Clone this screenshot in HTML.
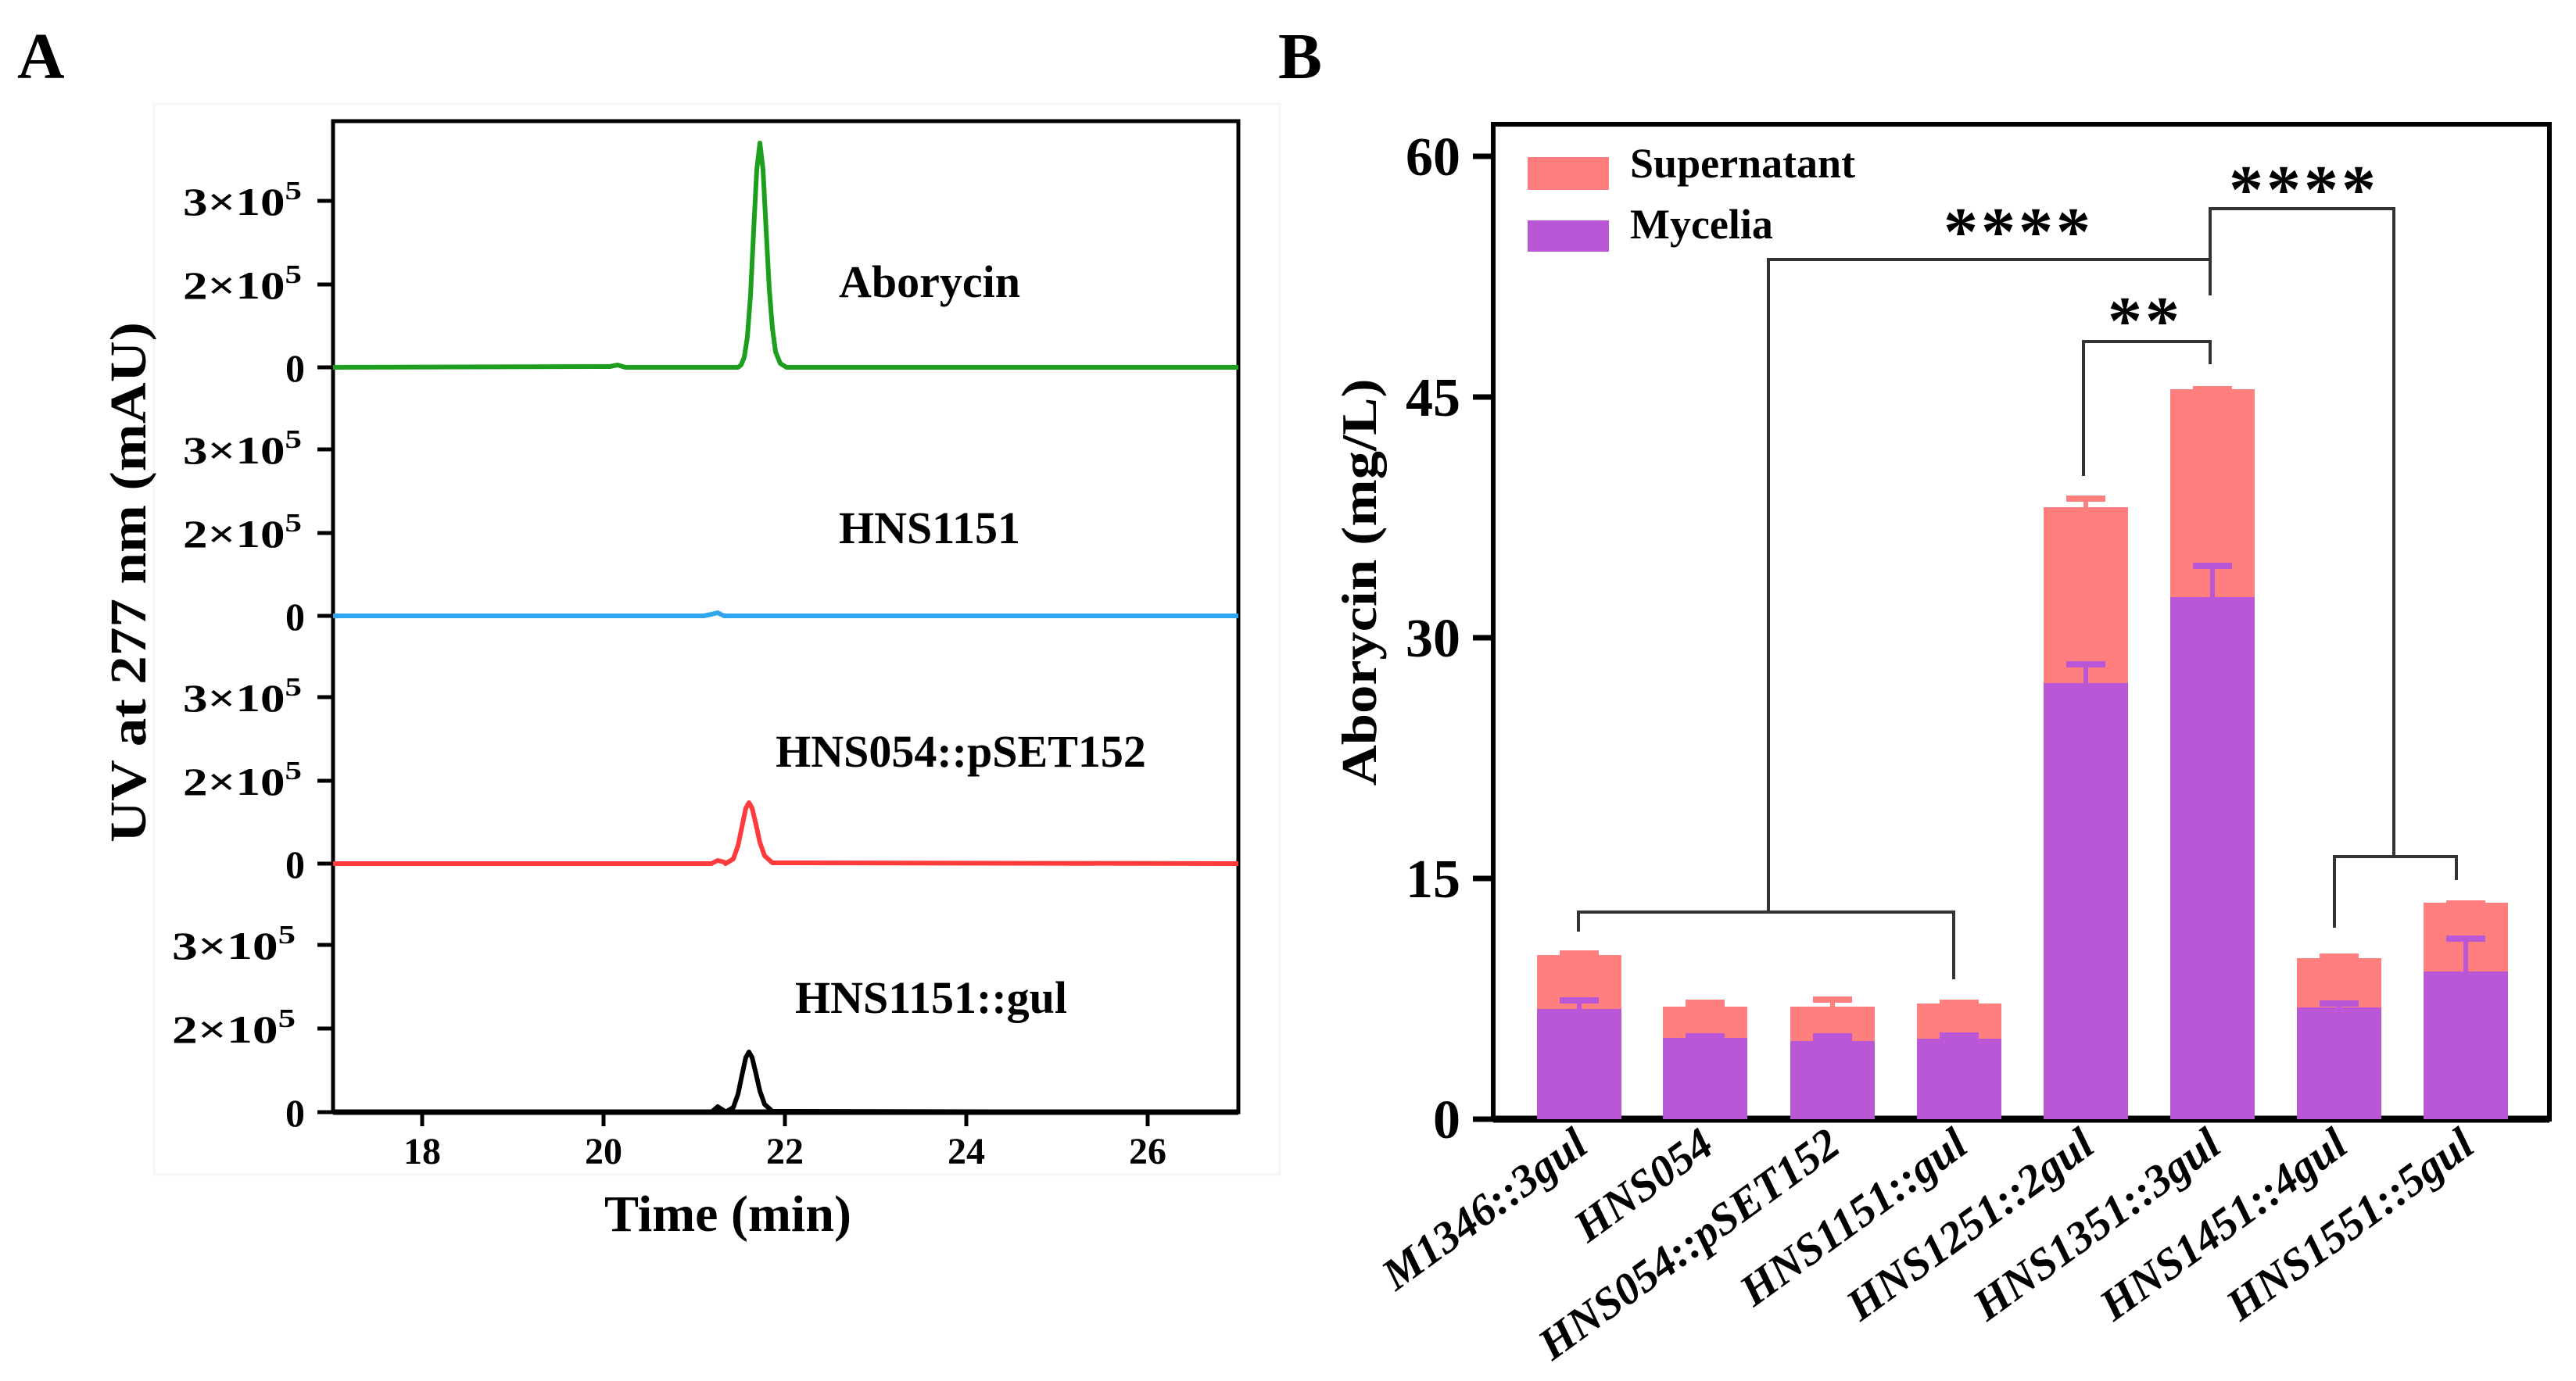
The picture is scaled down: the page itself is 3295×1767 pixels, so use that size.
<!DOCTYPE html>
<html><head><meta charset="utf-8"><style>
html,body{margin:0;padding:0;background:#fff}
svg{display:block}
text{font-family:"Liberation Serif",serif;font-weight:bold;fill:#000}
</style></head><body>
<svg width="3295" height="1767" viewBox="0 0 3295 1767" xmlns="http://www.w3.org/2000/svg">
<rect width="3295" height="1767" fill="#fff"/>
<!-- Panel A -->
<text x="22" y="100" font-size="84">A</text>
<rect x="197" y="133" width="1440" height="1370" fill="none" stroke="#f6f6f6" stroke-width="3"/>
<g stroke="#000" stroke-width="5" fill="none">
<rect x="426" y="155" width="1158" height="1268"/>
<line x1="426" y1="1423" x2="1584" y2="1423" stroke-width="7"/>
</g>
<g stroke="#000" stroke-width="5">
<line x1="406" y1="257" x2="426" y2="257"/><line x1="406" y1="364" x2="426" y2="364"/><line x1="406" y1="470" x2="426" y2="470"/>
<line x1="406" y1="575" x2="426" y2="575"/><line x1="406" y1="682" x2="426" y2="682"/><line x1="406" y1="788" x2="426" y2="788"/>
<line x1="406" y1="892" x2="426" y2="892"/><line x1="406" y1="999" x2="426" y2="999"/><line x1="406" y1="1105" x2="426" y2="1105"/>
<line x1="406" y1="1209" x2="426" y2="1209"/><line x1="406" y1="1316" x2="426" y2="1316"/><line x1="406" y1="1423" x2="426" y2="1423"/>
<line x1="540" y1="1423" x2="540" y2="1441"/><line x1="772" y1="1423" x2="772" y2="1441"/><line x1="1004" y1="1423" x2="1004" y2="1441"/><line x1="1236" y1="1423" x2="1236" y2="1441"/><line x1="1468" y1="1423" x2="1468" y2="1441"/>
</g>
<g font-size="50">
<text x="234" y="275" textLength="152" lengthAdjust="spacingAndGlyphs">3×10<tspan font-size="34" dy="-20">5</tspan></text>
<text x="234" y="382" textLength="152" lengthAdjust="spacingAndGlyphs">2×10<tspan font-size="34" dy="-20">5</tspan></text>
<text x="234" y="593" textLength="152" lengthAdjust="spacingAndGlyphs">3×10<tspan font-size="34" dy="-20">5</tspan></text>
<text x="234" y="700" textLength="152" lengthAdjust="spacingAndGlyphs">2×10<tspan font-size="34" dy="-20">5</tspan></text>
<text x="234" y="910" textLength="152" lengthAdjust="spacingAndGlyphs">3×10<tspan font-size="34" dy="-20">5</tspan></text>
<text x="234" y="1017" textLength="152" lengthAdjust="spacingAndGlyphs">2×10<tspan font-size="34" dy="-20">5</tspan></text>
<text x="220" y="1227" textLength="158" lengthAdjust="spacingAndGlyphs">3×10<tspan font-size="34" dy="-20">5</tspan></text>
<text x="220" y="1334" textLength="158" lengthAdjust="spacingAndGlyphs">2×10<tspan font-size="34" dy="-20">5</tspan></text>
</g>
<g font-size="50" text-anchor="end">
<text x="390" y="488">0</text>
<text x="390" y="806">0</text>
<text x="390" y="1123">0</text>
<text x="390" y="1441">0</text>
</g>
<g font-size="48" text-anchor="middle">
<text x="540" y="1489">18</text><text x="772" y="1489">20</text><text x="1004" y="1489">22</text><text x="1236" y="1489">24</text><text x="1468" y="1489">26</text>
</g>
<text x="931" y="1575" font-size="66" text-anchor="middle">Time (min)</text>
<text transform="translate(186,745) rotate(-90)" font-size="66" text-anchor="middle" textLength="666" lengthAdjust="spacingAndGlyphs">UV at 277 nm (mAU)</text>
<g font-size="58" text-anchor="middle">
<text x="1189" y="380">Aborycin</text>
<text x="1189" y="695">HNS1151</text>
<text x="1229" y="981">HNS054::pSET152</text>
<text x="1191" y="1296">HNS1151::gul</text>
</g>
<g fill="none" stroke-width="6" stroke-linejoin="round">
<polyline stroke="#1e9e1e" points="426,470 780,469 790,467 800,470 944,470 948,467 952,457 956,431 960,378 964,295 968,217 972,183 976,217 980,295 984,370 988,420 992,450 998,465 1006,470 1584,470"/>
<polyline stroke="#30a6f0" points="426,788 900,788 910,786 918,784 926,788 1584,788"/>
<polyline stroke="#ff3b3b" points="426,1105 910,1105 918,1101 926,1103 928,1105 938,1099 944,1082 949,1058 954,1034 958,1027 962,1034 967,1055 972,1078 978,1095 988,1104 1584,1105"/>
<polyline stroke="#000" points="426,1423 910,1423 918,1416 926,1421 928,1423 938,1417 944,1400 949,1376 954,1353 958,1346 962,1353 967,1374 972,1396 978,1413 988,1422 1584,1423"/>
</g>
<!-- Panel B -->
<text x="1635" y="100" font-size="84">B</text>
<rect x="1910" y="159" width="1351" height="1273" fill="none" stroke="#000" stroke-width="6"/>
<line x1="1910" y1="1432" x2="3261" y2="1432" stroke="#000" stroke-width="9"/>
<g stroke="#000" stroke-width="7">
<line x1="1884" y1="200" x2="1910" y2="200"/><line x1="1884" y1="508" x2="1910" y2="508"/><line x1="1884" y1="816" x2="1910" y2="816"/><line x1="1884" y1="1124" x2="1910" y2="1124"/><line x1="1884" y1="1432" x2="1910" y2="1432"/>
</g>
<g font-size="70" text-anchor="end">
<text x="1868" y="224">60</text><text x="1868" y="532">45</text><text x="1868" y="840">30</text><text x="1868" y="1148">15</text><text x="1868" y="1456">0</text>
</g>
<text transform="translate(1760,745) rotate(-90)" font-size="64" text-anchor="middle" textLength="521" lengthAdjust="spacingAndGlyphs">Aborycin (mg/L)</text>
<rect x="1954" y="201" width="104" height="42" fill="#ff7f7f"/>
<rect x="1954" y="282" width="104" height="40" fill="#b957d6"/>
<text x="2085" y="227" font-size="54">Supernatant</text>
<text x="2085" y="305" font-size="54">Mycelia</text>
<g>
<rect x="1966" y="1222" width="108" height="210" fill="#ff7f7f"/><rect x="1995" y="1216" width="50" height="8" fill="#ff7f7f"/>
<rect x="1966" y="1291" width="108" height="141" fill="#b957d6"/><rect x="1995" y="1276" width="50" height="8" fill="#b957d6"/><rect x="2017" y="1276" width="6" height="15" fill="#b957d6"/>

<rect x="2127" y="1288" width="108" height="144" fill="#ff7f7f"/><rect x="2156" y="1279" width="50" height="9" fill="#ff7f7f"/>
<rect x="2127" y="1328" width="108" height="104" fill="#b957d6"/><rect x="2156" y="1322" width="50" height="6" fill="#b957d6"/>

<rect x="2290" y="1288" width="108" height="144" fill="#ff7f7f"/><rect x="2319" y="1275" width="50" height="8" fill="#ff7f7f"/><rect x="2341" y="1275" width="6" height="13" fill="#ff7f7f"/>
<rect x="2290" y="1332" width="108" height="100" fill="#b957d6"/><rect x="2319" y="1322" width="50" height="10" fill="#b957d6"/>

<rect x="2452" y="1284" width="108" height="148" fill="#ff7f7f"/><rect x="2481" y="1279" width="50" height="6" fill="#ff7f7f"/>
<rect x="2452" y="1329" width="108" height="103" fill="#b957d6"/><rect x="2481" y="1321" width="50" height="8" fill="#b957d6"/>

<rect x="2614" y="649" width="108" height="783" fill="#ff7f7f"/><rect x="2643" y="634" width="50" height="8" fill="#ff7f7f"/><rect x="2665" y="634" width="6" height="15" fill="#ff7f7f"/>
<rect x="2614" y="874" width="108" height="558" fill="#b957d6"/><rect x="2643" y="846" width="50" height="8" fill="#b957d6"/><rect x="2665" y="846" width="6" height="28" fill="#b957d6"/>

<rect x="2776" y="498" width="108" height="934" fill="#ff7f7f"/><rect x="2805" y="494" width="50" height="6" fill="#ff7f7f"/>
<rect x="2776" y="764" width="108" height="668" fill="#b957d6"/><rect x="2805" y="720" width="50" height="8" fill="#b957d6"/><rect x="2827" y="720" width="6" height="44" fill="#b957d6"/>

<rect x="2938" y="1226" width="108" height="206" fill="#ff7f7f"/><rect x="2967" y="1220" width="50" height="7" fill="#ff7f7f"/>
<rect x="2938" y="1289" width="108" height="143" fill="#b957d6"/><rect x="2967" y="1280" width="50" height="8" fill="#b957d6"/><rect x="2989" y="1280" width="6" height="9" fill="#b957d6"/>

<rect x="3100" y="1155" width="108" height="277" fill="#ff7f7f"/><rect x="3129" y="1152" width="50" height="6" fill="#ff7f7f"/>
<rect x="3100" y="1243" width="108" height="189" fill="#b957d6"/><rect x="3129" y="1197" width="50" height="8" fill="#b957d6"/><rect x="3151" y="1197" width="6" height="46" fill="#b957d6"/>
</g>
<g fill="none" stroke="#333" stroke-width="4">
<polyline points="2019,1192 2019,1167 2499,1167 2499,1253"/>
<polyline points="2262,1167 2262,332 2827,332 2827,378"/>
<polyline points="2665,609 2665,437 2827,437 2827,466"/>
<polyline points="2827,332 2827,267 3062,267 3062,1096"/>
<polyline points="2986,1187 2986,1096 3142,1096 3142,1126"/>
</g>
<g font-size="88" text-anchor="middle" letter-spacing="4">
<text x="2582" y="326">****</text>
<text x="2744" y="440">**</text>
<text x="2947" y="272">****</text>
</g>
<g font-size="57" font-style="italic" text-anchor="end">
<text transform="translate(2034,1472) rotate(-36)">M1346::3gul</text>
<text transform="translate(2195,1472) rotate(-36)">HNS054</text>
<text transform="translate(2357,1472) rotate(-36)">HNS054::pSET152</text>
<text transform="translate(2520,1472) rotate(-36)">HNS1151::gul</text>
<text transform="translate(2682,1472) rotate(-36)">HNS1251::2gul</text>
<text transform="translate(2844,1472) rotate(-36)">HNS1351::3gul</text>
<text transform="translate(3006,1472) rotate(-36)">HNS1451::4gul</text>
<text transform="translate(3168,1472) rotate(-36)">HNS1551::5gul</text>
</g>
</svg>
</body></html>
